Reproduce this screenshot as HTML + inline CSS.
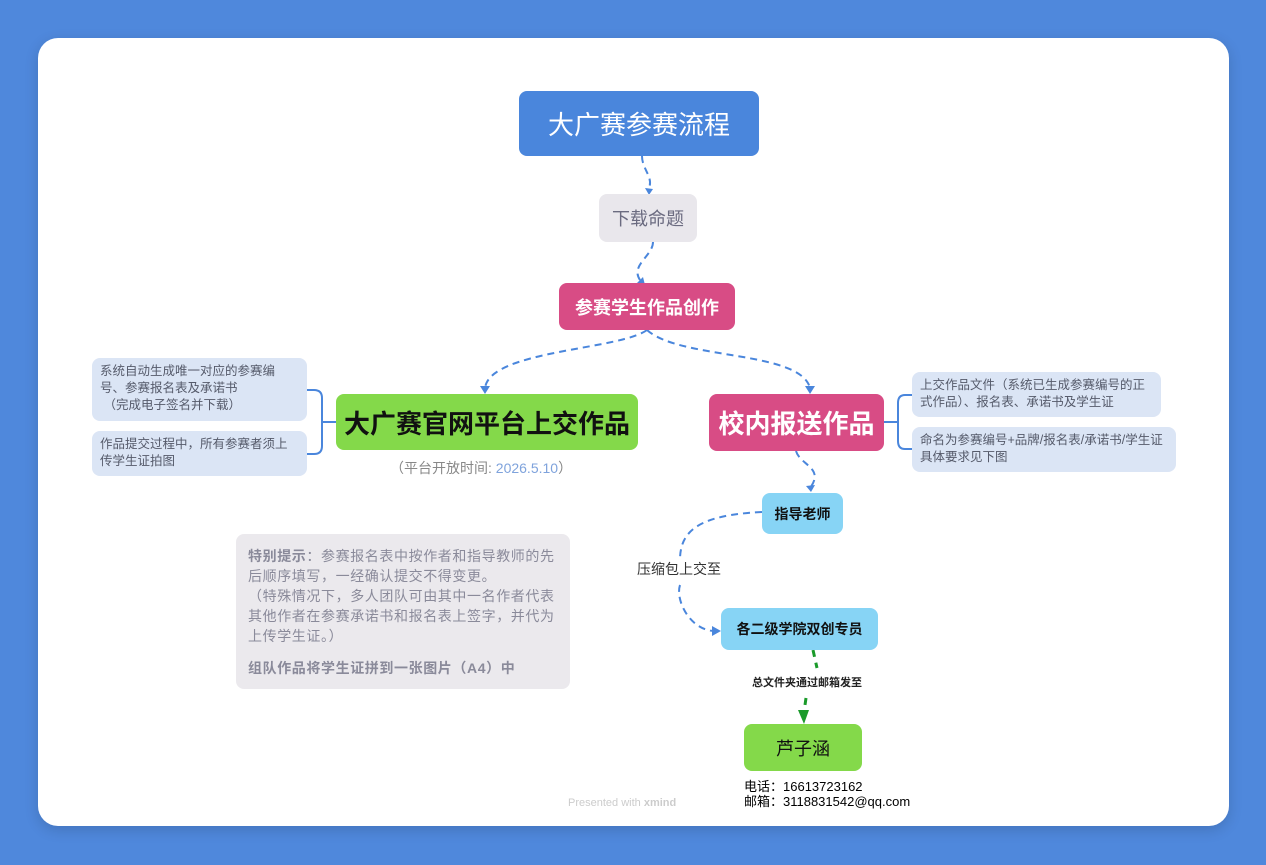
<!DOCTYPE html>
<html><head><meta charset="utf-8"><style>
*{margin:0;padding:0;box-sizing:border-box}
body{width:1266px;height:865px;background:#4f88dc;position:relative;overflow:hidden;font-family:"Liberation Sans","Noto Sans CJK SC",sans-serif}
.card{position:absolute;left:38px;top:38px;width:1191px;height:788px;background:#fff;border-radius:20px;box-shadow:0 4px 14px rgba(0,0,0,0.15)}
.n{position:absolute;display:flex;align-items:center;justify-content:center;border-radius:8px;white-space:nowrap}
.note{position:absolute;background:#dbe5f5;border-radius:8px;color:#555a6a;font-size:12.5px;line-height:17px;padding:5px 8px}
svg{position:absolute;left:0;top:0}
</style></head><body>
<div class="card"></div>
<svg width="1266" height="865">
<g fill="none" stroke="#4a86dc" stroke-width="2" stroke-dasharray="7,5">
<path d="M642 156 C642 170 655 178 648 190"/>
<path d="M653 242 C653 256 630 265 640 280"/>
<path d="M647 330 C620 350 490 350 485 388"/>
<path d="M647 330 C680 360 800 350 810 388"/>
<path d="M796 451 C800 465 825 468 810 488"/>
<path d="M762 512 C700 515 680 530 680 560"/>
<path d="M680 585 C675 600 690 630 714 631"/>
</g>
<g fill="#4a86dc"><path d="M480 386 l5 8 l5 -8z"/><path d="M805 386 l5 8 l5 -8z"/><path d="M806 486 l5 6 l4 -7z"/><path d="M712 626 l9 5 l-9 5z"/><path d="M643 277 l-6 6 l8 2z"/><path d="M645 188 l4 7 l4 -6z"/></g>
<g fill="none" stroke="#1a9a2a" stroke-width="3" stroke-dasharray="7,6"><path d="M813 650 L817 668"/><path d="M806 698 L804 712"/></g>
<path d="M798 710 l6 14 l5 -14z" fill="#1a9a2a"/>
<g fill="none" stroke="#4a86dc" stroke-width="2">
<path d="M336 422 H322 M307 390 H314 Q322 390 322 398 V446 Q322 454 314 454 H307"/>
<path d="M884 422 H898 M912 395 H905 Q898 395 898 403 V441 Q898 449 905 449 H912"/>
</g>
</svg>
<div class="n" style="left:519px;top:91px;width:240px;height:65px;background:#4a86dc;color:#fff;font-size:26px">大广赛参赛流程</div>
<div class="n" style="left:599px;top:194px;width:98px;height:48px;background:#e9e7ec;color:#6b6b80;font-size:18px">下载命题</div>
<div class="n" style="left:559px;top:283px;width:176px;height:47px;background:#d84c85;color:#fff;font-size:18px;font-weight:bold">参赛学生作品创作</div>
<div class="n" style="left:336px;top:394px;width:302px;height:56px;background:#84d94a;color:#111;font-size:26px;font-weight:bold">大广赛官网平台上交作品</div>
<div class="n" style="left:709px;top:394px;width:175px;height:57px;background:#d84c85;color:#fff;font-size:26px;font-weight:bold">校内报送作品</div>
<div style="position:absolute;left:390px;top:458px;font-size:14px;color:#888">（平台开放时间: <span style="color:#7fa3dc">2026.5.10</span>）</div>
<div class="note" style="left:92px;top:358px;width:215px;height:63px">系统自动生成唯一对应的参赛编号、参赛报名表及承诺书<br>&nbsp;（完成电子签名并下载）</div>
<div class="note" style="left:92px;top:431px;width:215px;height:45px">作品提交过程中，所有参赛者须上传学生证拍图</div>
<div class="note" style="left:912px;top:372px;width:249px;height:45px">上交作品文件（系统已生成参赛编号的正式作品）、报名表、承诺书及学生证</div>
<div class="note" style="left:912px;top:427px;width:264px;height:45px">命名为参赛编号+品牌/报名表/承诺书/学生证具体要求见下图</div>
<div class="n" style="left:762px;top:493px;width:81px;height:41px;background:#87d4f5;color:#111;font-size:14px;font-weight:bold">指导老师</div>
<div style="position:absolute;left:637px;top:559px;font-size:14px;color:#333">压缩包上交至</div>
<div class="n" style="left:721px;top:608px;width:157px;height:42px;background:#87d4f5;color:#111;font-size:14px;font-weight:bold">各二级学院双创专员</div>
<div style="position:absolute;left:752px;top:674px;font-size:11px;color:#222;font-weight:bold">总文件夹通过邮箱发至</div>
<div class="n" style="left:744px;top:724px;width:118px;height:47px;background:#84d94a;color:#111;font-size:18px">芦子涵</div>
<div style="position:absolute;left:744px;top:779px;font-size:13px;line-height:15px;color:#000">电话：16613723162<br>邮箱：3118831542@qq.com</div>
<div style="position:absolute;left:236px;top:534px;width:334px;height:155px;background:#ebe9ed;border-radius:8px;padding:12px 12px;font-size:14px;line-height:20px;letter-spacing:0.6px;color:#8a8a9a">
<b>特别提示</b>：参赛报名表中按作者和指导教师的先后顺序填写，一经确认提交不得变更。<br>（特殊情况下，多人团队可由其中一名作者代表其他作者在参赛承诺书和报名表上签字，并代为上传学生证。）<br><div style="height:12px"></div><b>组队作品将学生证拼到一张图片（A4）中</b></div>
<div style="position:absolute;left:568px;top:797px;font-size:11px;color:#ccc">Presented with <b>xmind</b></div>
</body></html>
